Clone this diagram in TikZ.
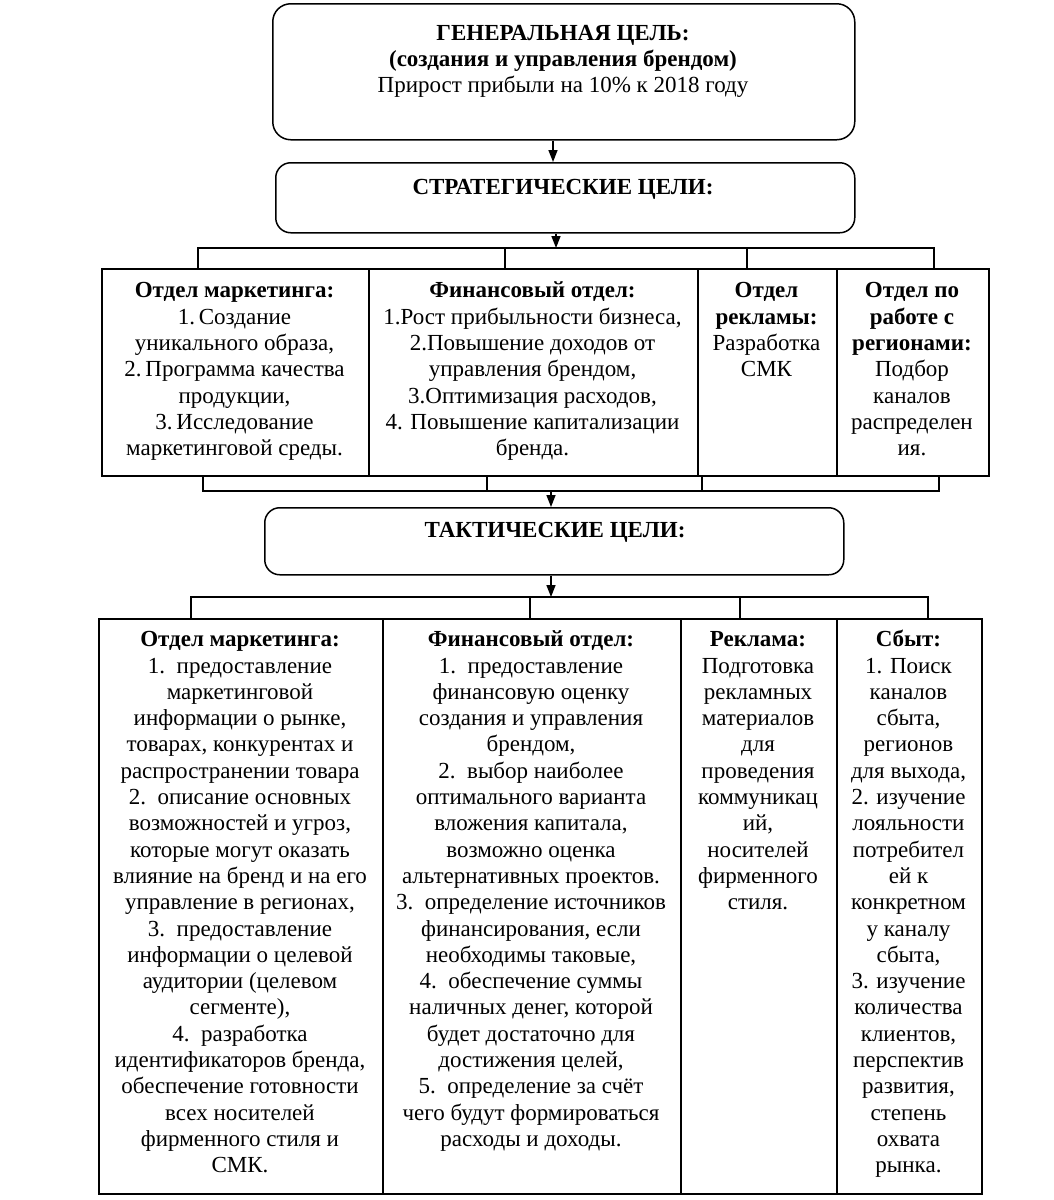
\documentclass[tikz,border=0pt]{standalone}
\usepackage{fontspec}
\setmainfont{Liberation Serif}
\usetikzlibrary{arrows.meta}
\begin{document}
\begin{tikzpicture}[x=1pt,y=-1pt,
  ln/.style={line width=1.5pt},
  box/.style={draw, line width=1.5pt, rounded corners=18pt, anchor=north west, inner sep=0pt},
  cell/.style={draw, line width=1.5pt, anchor=north west, inner sep=0pt},
  txt/.style={font=\fontsize{23}{26.3}\selectfont, align=center, inner sep=0pt, anchor=north},
  arr/.style={line width=1.5pt, -{Triangle[length=12pt,width=9pt]}}]
\useasboundingbox (0,0) rectangle (1053,1200);
% top boxes
\node[box, minimum width=582pt, minimum height=136pt] (g) at (272,3) {};
\node[txt, font=\fontsize{23}{26}\selectfont] (gt) at (563,22.3) {\strut\textbf{ГЕНЕРАЛЬНАЯ ЦЕЛЬ:}\\\textbf{(создания и управления брендом)}\\Прирост прибыли на 10\% к 2018 году};
\node[box, rounded corners=15pt, minimum width=579pt, minimum height=70pt] (s) at (275,162) {};
\node[txt] (st) at (563,176.1) {\strut\textbf{СТРАТЕГИЧЕСКИЕ ЦЕЛИ:}};
\node[box, rounded corners=15pt, minimum width=579pt, minimum height=67pt] (t) at (264,507) {};
\node[txt] (tt) at (555,519.1) {\strut\textbf{ТАКТИЧЕСКИЕ ЦЕЛИ:}};
% table 1
\node[cell, minimum width=267pt, minimum height=207pt] (m1) at (101,268) {};
\node[cell, minimum width=329pt, minimum height=207pt] (f1) at (368,268) {};
\node[cell, minimum width=139pt, minimum height=207pt] (r1) at (697,268) {};
\node[cell, minimum width=152pt, minimum height=207pt] (p1) at (836,268) {};
\node[txt] (m1t) at (234.5,279.3) {\strut\textbf{Отдел маркетинга:}\\1.\,Создание\\уникального образа,\\2.\,Программа качества\\продукции,\\3.\,Исследование\\маркетинговой среды.};
\node[txt] (f1t) at (532.5,279.3) {\strut\textbf{Финансовый отдел:}\\1.Рост прибыльности бизнеса,\\2.Повышение доходов от\\управления брендом,\\3.Оптимизация расходов,\\4. Повышение капитализации\\бренда.};
\node[txt] (r1t) at (766.5,279.3) {\strut\textbf{Отдел}\\\textbf{рекламы:}\\Разработка\\СМК};
\node[txt] (p1t) at (912,279.3) {\strut\textbf{Отдел по}\\\textbf{работе с}\\\textbf{регионами:}\\Подбор\\каналов\\распределен\\ия.};
% table 2
\node[cell, minimum width=284pt, minimum height=575pt] (m2) at (98,618) {};
\node[cell, minimum width=298pt, minimum height=575pt] (f2) at (382,618) {};
\node[cell, minimum width=156pt, minimum height=575pt] (r2) at (680,618) {};
\node[cell, minimum width=145pt, minimum height=575pt] (s2) at (836,618) {};
\node[txt] (m2t) at (240,628.1) {\strut\textbf{Отдел маркетинга:}\\1.~~предоставление\\маркетинговой\\информации о рынке,\\товарах, конкурентах и\\распространении товара\\2.~~описание основных\\возможностей и угроз,\\которые могут оказать\\влияние на бренд и на его\\управление в регионах,\\3.~~предоставление\\информации о целевой\\аудитории (целевом\\сегменте),\\4.~~разработка\\идентификаторов бренда,\\обеспечение готовности\\всех носителей\\фирменного стиля и\\СМК.};
\node[txt] (f2t) at (531,628.1) {\strut\textbf{Финансовый отдел:}\\1.~~предоставление\\финансовую оценку\\создания и управления\\брендом,\\2.~~выбор наиболее\\оптимального варианта\\вложения капитала,\\возможно оценка\\альтернативных проектов.\\3.~~определение источников\\финансирования, если\\необходимы таковые,\\4.~~обеспечение суммы\\наличных денег, которой\\будет достаточно для\\достижения целей,\\5.~~определение за счёт\\чего будут формироваться\\расходы и доходы.};
\node[txt] (r2t) at (758,628.1) {\strut\textbf{Реклама:}\\Подготовка\\рекламных\\материалов\\для\\проведения\\коммуникац\\ий,\\носителей\\фирменного\\стиля.};
\node[txt] (s2t) at (908.5,628.1) {\strut\textbf{Сбыт:}\\1. Поиск\\каналов\\сбыта,\\регионов\\для выхода,\\2. изучение\\лояльности\\потребител\\ей к\\конкретном\\у каналу\\сбыта,\\3. изучение\\количества\\клиентов,\\перспектив\\развития,\\степень\\охвата\\рынка.};
% connector coordinates
\coordinate (a1) at (553,139);
\coordinate (a2) at (556,248);
\coordinate (k1) at (198,248);
\coordinate (k2) at (505,248);
\coordinate (k3) at (747,248);
\coordinate (k4) at (934,248);
\coordinate (a3) at (551,491);
\coordinate (u1) at (203,491);
\coordinate (u2) at (487,491);
\coordinate (u3) at (702,491);
\coordinate (u4) at (939,491);
\coordinate (a4) at (551,597);
\coordinate (v1) at (191,597);
\coordinate (v2) at (530,597);
\coordinate (v3) at (740,597);
\coordinate (v4) at (928,597);
% connectors
\draw[arr] (a1 |- g.south) -- (a1 |- s.north);
\draw[arr] (a2 |- s.south) -- (a2);
\draw[ln] (k1 |- m1.north) -- (k1) -- (k4) -- (k4 |- p1.north);
\draw[ln] (k2) -- (k2 |- f1.north);
\draw[ln] (k3) -- (k3 |- r1.north);
\draw[ln] (u1 |- m1.south) -- (u1) -- (u4) -- (u4 |- p1.south);
\draw[ln] (u2 |- f1.south) -- (u2);
\draw[ln] (u3 |- r1.south) -- (u3);
\draw[arr] (a3) -- (a3 |- t.north);
\draw[arr] (a4 |- t.south) -- (a4);
\draw[ln] (v1 |- m2.north) -- (v1) -- (v4) -- (v4 |- s2.north);
\draw[ln] (v2) -- (v2 |- f2.north);
\draw[ln] (v3) -- (v3 |- r2.north);
\end{tikzpicture}
\end{document}
